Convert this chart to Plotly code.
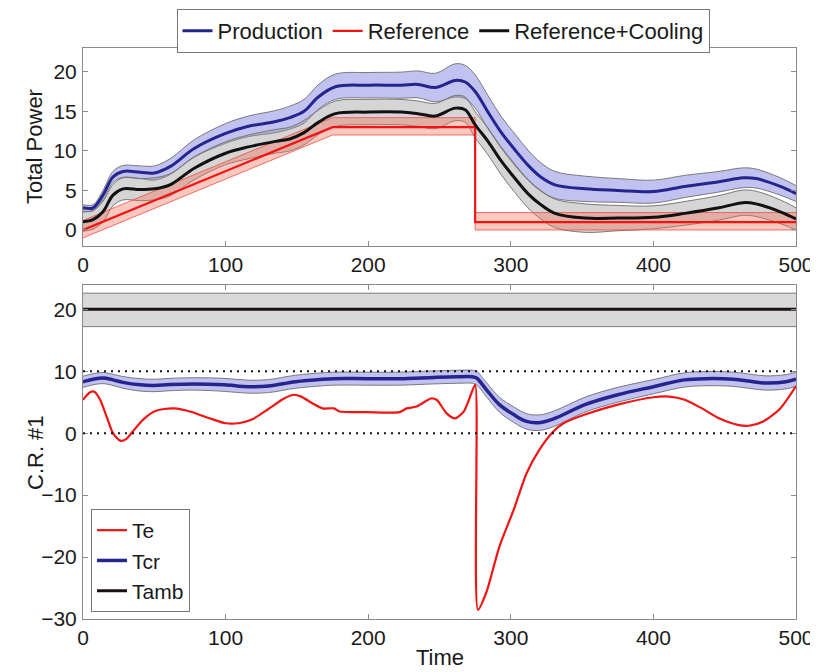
import plotly.graph_objects as go
from plotly.subplots import make_subplots

# ---------------- top panel data ----------------
t_top = [0, 7, 14, 21, 28, 40, 50, 61, 78, 100, 116, 135, 145, 155, 165, 177, 200, 223, 235, 247,
         261, 268, 275, 284, 293, 303, 312, 321, 331, 352, 375, 400, 422, 446, 463, 472, 489, 500]
production = [2.8, 2.8, 4.4, 6.7, 7.4, 7.3, 7.2, 8.0, 10.3, 12.2, 13.1, 13.7, 14.2, 15.0, 16.8, 18.1, 18.3, 18.3, 18.4, 18.0,
              18.9, 18.7, 17.5, 14.9, 12.4, 10.1, 8.2, 6.7, 5.7, 5.2, 5.0, 4.85, 5.5, 6.1, 6.6, 6.5, 5.5, 4.6]
production_spread = [0.4, 0.4, 0.6, 0.7, 0.75, 0.8, 0.9, 1.0, 1.1, 1.25, 1.3, 1.4, 1.45, 1.5, 1.55, 1.6, 1.6, 1.65, 1.7, 1.8,
                     2.1, 2.1, 2.1, 2.1, 2.0, 2.0, 1.9, 1.8, 1.7, 1.6, 1.5, 1.45, 1.4, 1.3, 1.25, 1.2, 1.1, 1.0]
ref_cooling = [1.05, 1.3, 2.3, 4.4, 5.2, 5.1, 5.2, 5.7, 7.8, 9.7, 10.5, 11.2, 11.5, 12.3, 13.6, 14.7, 14.9, 14.9, 14.7, 14.4,
               15.4, 15.2, 13.3, 11.2, 8.8, 6.5, 4.6, 3.2, 2.1, 1.5, 1.5, 1.6, 2.1, 2.8, 3.45, 3.3, 2.3, 1.4]
ref_cooling_spread = [1.2, 1.2, 1.3, 1.35, 1.4, 1.4, 1.4, 1.4, 1.45, 1.45, 1.5, 1.5, 1.5, 1.55, 1.55, 1.6, 1.6, 1.6, 1.6, 1.6,
                      1.6, 1.6, 1.65, 1.7, 1.75, 1.8, 1.8, 1.8, 1.8, 1.8, 1.6, 1.45, 1.5, 1.55, 1.6, 1.6, 1.5, 1.4]
t_ref = [0, 175, 275, 275, 500]
reference = [0.0, 13.0, 13.0, 1.0, 1.0]
reference_upper = [1.2, 14.2, 14.2, 2.2, 2.2]
reference_lower = [-1.0, 12.0, 12.0, 0.0, 0.0]

# ---------------- bottom panel data ----------------
t_amb = [0, 500]
tamb = [20, 20]
tamb_upper = [22.6, 22.6]
tamb_lower = [17.2, 17.2]

t_cr = [0, 7, 14, 21, 28, 40, 50, 61, 78, 99, 116, 130, 149, 168, 176, 199, 222, 246, 262, 273,
        276, 283, 292, 302, 311, 320, 330, 352, 375, 400, 422, 437, 456, 470, 479, 493, 500]
tcr = [8.3, 8.7, 8.9, 8.6, 8.2, 7.8, 7.7, 7.85, 7.95, 7.8, 7.5, 7.6, 8.3, 8.7, 8.8, 8.8, 8.8, 9.0, 9.1, 9.1,
       8.9, 7.0, 4.6, 3.0, 1.9, 1.7, 2.3, 4.6, 6.2, 7.5, 8.6, 8.8, 8.7, 8.3, 8.1, 8.3, 8.7]
tcr_spread = [0.9, 0.9, 0.9, 0.9, 0.95, 1.0, 1.0, 1.0, 1.0, 1.05, 1.05, 1.05, 1.05, 1.05, 1.05, 1.05, 1.05, 1.05, 1.05, 1.05,
              1.1, 1.15, 1.2, 1.25, 1.25, 1.25, 1.25, 1.2, 1.2, 1.15, 1.15, 1.15, 1.15, 1.15, 1.15, 1.15, 1.15]

t_e = [0, 5, 8, 12, 17, 21, 26, 30, 35, 42, 50, 57, 64, 75, 90, 100, 109, 118, 130, 141,
       148, 153, 161, 168, 176, 180, 199, 222, 227, 234, 244, 248, 255, 261, 267, 271, 275, 277, 283, 292,
       302, 311, 320, 330, 337, 352, 375, 400, 411, 422, 434, 446, 460, 467, 477, 489, 500]
te = [5.4, 6.6, 6.7, 5.4, 2.4, 0.0, -1.2, -1.0, 0.3, 2.15, 3.5, 3.9, 4.0, 3.5, 2.3, 1.6, 1.6, 2.15, 3.9, 5.6,
      6.2, 5.9, 4.8, 4.0, 4.0, 3.5, 3.4, 3.4, 4.0, 4.3, 5.6, 5.4, 3.2, 2.4, 3.5, 5.6, 7.8, -28.5, -25.6, -18.3,
      -12.4, -6.5, -2.7, 0.3, 1.6, 3.0, 4.6, 5.8, 5.9, 5.4, 4.0, 2.4, 1.3, 1.2, 1.9, 4.0, 7.6]

limits = [0, 10]

x_ticks = [0, 100, 200, 300, 400, 500]
y_ticks_top = [0, 5, 10, 15, 20]
y_ticks_bottom = [-30, -20, -10, 0, 10, 20]

# ---------------- styling ----------------
FONT = "Liberation Sans, Arial, sans-serif"
BLUE = "#25258f"
RED = "#f01414"
BLACK = "#111111"
AMB = "#1c1010"
BLUE_FILL = "rgba(110,110,220,0.42)"
GREY_FILL = "rgba(150,150,150,0.40)"
RED_FILL = "rgba(245,110,90,0.38)"
EDGE = "rgba(110,110,110,0.9)"
AXIS = "#8a8a8a"
TXT = "#1a1a1a"

# the page body adds an 8px offset; work in screen pixels and convert
OFF = 8
W, H = 818 - OFF, 672 - OFF
PLOT_L, PLOT_R = 83, 796          # screen px of the axes box
ML = PLOT_L - OFF
MR = W - (PLOT_R - OFF)
MT, MB = 1, 53
PH = H - MT - MB
PW = W - ML - MR


def py(sy):
    return (H - MB - (sy - OFF)) / PH


def px(sx):
    return (sx - OFF - ML) / PW


fig = make_subplots(rows=2, cols=1)


def add_band(x, lo, hi, fill, edge, row, shape="spline"):
    fig.add_trace(go.Scatter(x=x, y=lo, mode="lines", line=dict(color=edge, width=1, shape=shape),
                             showlegend=False, hoverinfo="skip"), row=row, col=1)
    fig.add_trace(go.Scatter(x=x, y=hi, mode="lines", line=dict(color=edge, width=1, shape=shape),
                             fill="tonexty", fillcolor=fill, showlegend=False, hoverinfo="skip"), row=row, col=1)


prod_hi = [m + s for m, s in zip(production, production_spread)]
prod_lo = [m - s for m, s in zip(production, production_spread)]
cool_hi = [m + s for m, s in zip(ref_cooling, ref_cooling_spread)]
cool_lo = [m - s for m, s in zip(ref_cooling, ref_cooling_spread)]
tcr_hi = [m + s for m, s in zip(tcr, tcr_spread)]
tcr_lo = [m - s for m, s in zip(tcr, tcr_spread)]

# top bands
add_band(t_top, prod_lo, prod_hi, BLUE_FILL, EDGE, 1)
add_band(t_top, cool_lo, cool_hi, GREY_FILL, EDGE, 1)
add_band(t_ref, reference_lower, reference_upper, RED_FILL, "rgba(240,60,50,0.7)", 1, shape="linear")

# top lines
fig.add_trace(go.Scatter(x=t_top, y=production, mode="lines", name="Production",
                         line=dict(color=BLUE, width=3, shape="spline"), legend="legend"), row=1, col=1)
fig.add_trace(go.Scatter(x=t_ref, y=reference, mode="lines", name="Reference",
                         line=dict(color=RED, width=2.2), legend="legend"), row=1, col=1)
fig.add_trace(go.Scatter(x=t_top, y=ref_cooling, mode="lines", name="Reference+Cooling",
                         line=dict(color=BLACK, width=3, shape="spline"), legend="legend"), row=1, col=1)

# bottom bands
add_band(t_amb, tamb_lower, tamb_upper, "rgba(150,150,150,0.36)", EDGE, 2, shape="linear")
add_band(t_cr, tcr_lo, tcr_hi, BLUE_FILL, EDGE, 2)

# bottom lines
fig.add_trace(go.Scatter(x=t_e, y=te, mode="lines", name="Te",
                         line=dict(color=RED, width=2.2, shape="spline", smoothing=0.7), legend="legend2"), row=2, col=1)
fig.add_trace(go.Scatter(x=t_cr, y=tcr, mode="lines", name="Tcr",
                         line=dict(color=BLUE, width=3.5, shape="spline"), legend="legend2"), row=2, col=1)
fig.add_trace(go.Scatter(x=t_amb, y=tamb, mode="lines", name="Tamb",
                         line=dict(color=AMB, width=3), legend="legend2"), row=2, col=1)

for lim in limits:
    fig.add_shape(type="line", xref="x2", yref="y2", x0=0, x1=500, y0=lim, y1=lim,
                  line=dict(color="#111111", width=2, dash="2px,5px"), layer="above")

axis_common = dict(showgrid=False, zeroline=False, showline=True, linecolor=AXIS, linewidth=1,
                   mirror="ticks", ticks="inside", ticklen=5, tickcolor=AXIS, automargin=False,
                   tickfont=dict(family=FONT, size=21, color=TXT))

fig.update_xaxes(range=[0, 500], tickvals=x_ticks, ticklabelstandoff=0, **axis_common)
fig.update_yaxes(ticklabelstandoff=1, **axis_common)

title_font = dict(family=FONT, size=22, color=TXT)
annotations = [
    dict(text="Total Power", x=px(35), y=py(147), xref="paper", yref="paper", textangle=-90,
         showarrow=False, xanchor="center", yanchor="middle", font=title_font),
    dict(text="C.R. #1", x=px(35), y=py(453), xref="paper", yref="paper", textangle=-90,
         showarrow=False, xanchor="center", yanchor="middle", font=title_font),
    dict(text="Time", x=0.5, y=py(657), xref="paper", yref="paper",
         showarrow=False, xanchor="center", yanchor="middle", font=title_font),
]

fig.update_layout(
    xaxis=dict(domain=[0, 1]),
    xaxis2=dict(domain=[0, 1]),
    yaxis=dict(domain=[py(245.8), py(48)], range=[-2, 23], tickvals=y_ticks_top),
    yaxis2=dict(domain=[py(619), py(284.5)], range=[-30, 24], tickvals=y_ticks_bottom),
    width=W, height=H,
    margin=dict(l=ML, r=MR, t=MT, b=MB),
    paper_bgcolor="white", plot_bgcolor="white",
    font=dict(family=FONT, size=21, color=TXT),
    annotations=annotations,
    legend=dict(orientation="h", x=px(443), xanchor="center", y=py(9), yanchor="top",
                bordercolor="#777777", borderwidth=1, bgcolor="white", traceorder="normal",
                font=dict(family=FONT, size=22, color=TXT)),
    legend2=dict(orientation="v", x=px(91), xanchor="left", y=py(612), yanchor="bottom",
                 bordercolor="#777777", borderwidth=1, bgcolor="white", traceorder="normal",
                 font=dict(family=FONT, size=21, color=TXT), tracegroupgap=0),
)

fig.write_html("out.html")
